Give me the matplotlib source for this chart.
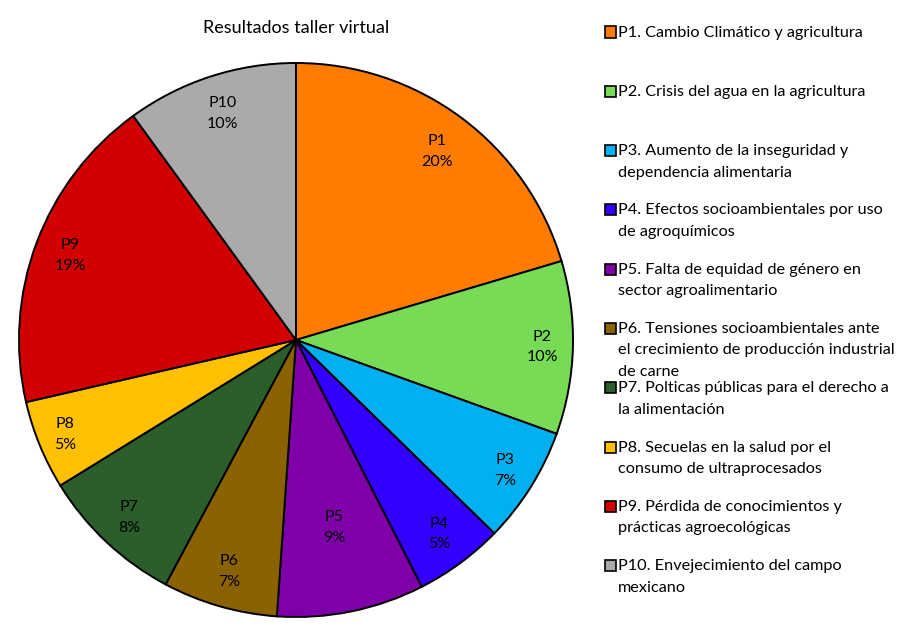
import matplotlib.pyplot as plt
from matplotlib.patches import Rectangle
import numpy as np

plt.rcParams['font.family'] = ['Lato', 'DejaVu Sans']

# valores (porcentaje de respuestas)
codes = ['P1', 'P2', 'P3', 'P4', 'P5', 'P6', 'P7', 'P8', 'P9', 'P10']
values = [20.4, 10.1, 6.8, 5.2, 8.6, 6.7, 8.4, 5.2, 18.6, 10.0]
legend_labels = [
    'P1. Cambio Climático y agricultura',
    'P2. Crisis del agua en la agricultura',
    'P3. Aumento de la inseguridad y\ndependencia alimentaria',
    'P4. Efectos socioambientales por uso\nde agroquímicos',
    'P5. Falta de equidad de género en\nsector agroalimentario',
    'P6. Tensiones socioambientales ante\nel crecimiento de producción industrial\nde carne',
    'P7. Polticas públicas para el derecho a\nla alimentación',
    'P8. Secuelas en la salud por el\nconsumo de ultraprocesados',
    'P9. Pérdida de conocimientos y\nprácticas agroecológicas',
    'P10. Envejecimiento del campo\nmexicano',
]
colors = ['#FF7C00', '#77DB55', '#00B0F0', '#3300FF', '#7F00A8',
          '#8A6200', '#2B5E2B', '#FFC000', '#D20000', '#AAAAAA']

W, H = 920, 628
fig = plt.figure(figsize=(W / 100, H / 100), dpi=100)

cx, cy, r = 296, 340, 277
ax = fig.add_axes([(cx - r) / W, (H - cy - r) / H, 2 * r / W, 2 * r / H])
wedges, _ = ax.pie(values, colors=colors, startangle=90, counterclock=False,
                   wedgeprops=dict(edgecolor='black', linewidth=1.4, clip_on=False))
ax.set_xlim(-1, 1)
ax.set_ylim(-1, 1)
ax.set_aspect('equal')
ax.axis('off')

# etiquetas dentro de las rebanadas (P5 la movio Excel hacia el centro)
dists = [0.85, 0.89, 0.89, 0.87, 0.69, 0.87, 0.88, 0.9, 0.87, 0.86]
for w, code, v, d in zip(wedges, codes, values, dists):
    ang = np.deg2rad((w.theta1 + w.theta2) / 2)
    ax.text(d * np.cos(ang), d * np.sin(ang), '%s\n%d%%' % (code, int(v + 0.5)),
            ha='center', va='center', fontsize=11.5, linespacing=1.6)

fig.text(cx / W, 1 - 28 / H, 'Resultados taller virtual', ha='center', va='center',
         fontsize=13)

# leyenda manual: cada entrada ocupa una franja fija
for i, (lab, col) in enumerate(zip(legend_labels, colors)):
    y = 32 + i * 59.3
    fig.patches.append(Rectangle((605 / W, 1 - (y + 5.5) / H), 11 / W, 11 / H,
                                 transform=fig.transFigure, facecolor=col,
                                 edgecolor='black', linewidth=1.2))
    fig.text(618 / W, 1 - (y - 6.5) / H, lab, ha='left', va='top', fontsize=11.7,
             linespacing=1.68)

fig.savefig('out.png', dpi=100)
